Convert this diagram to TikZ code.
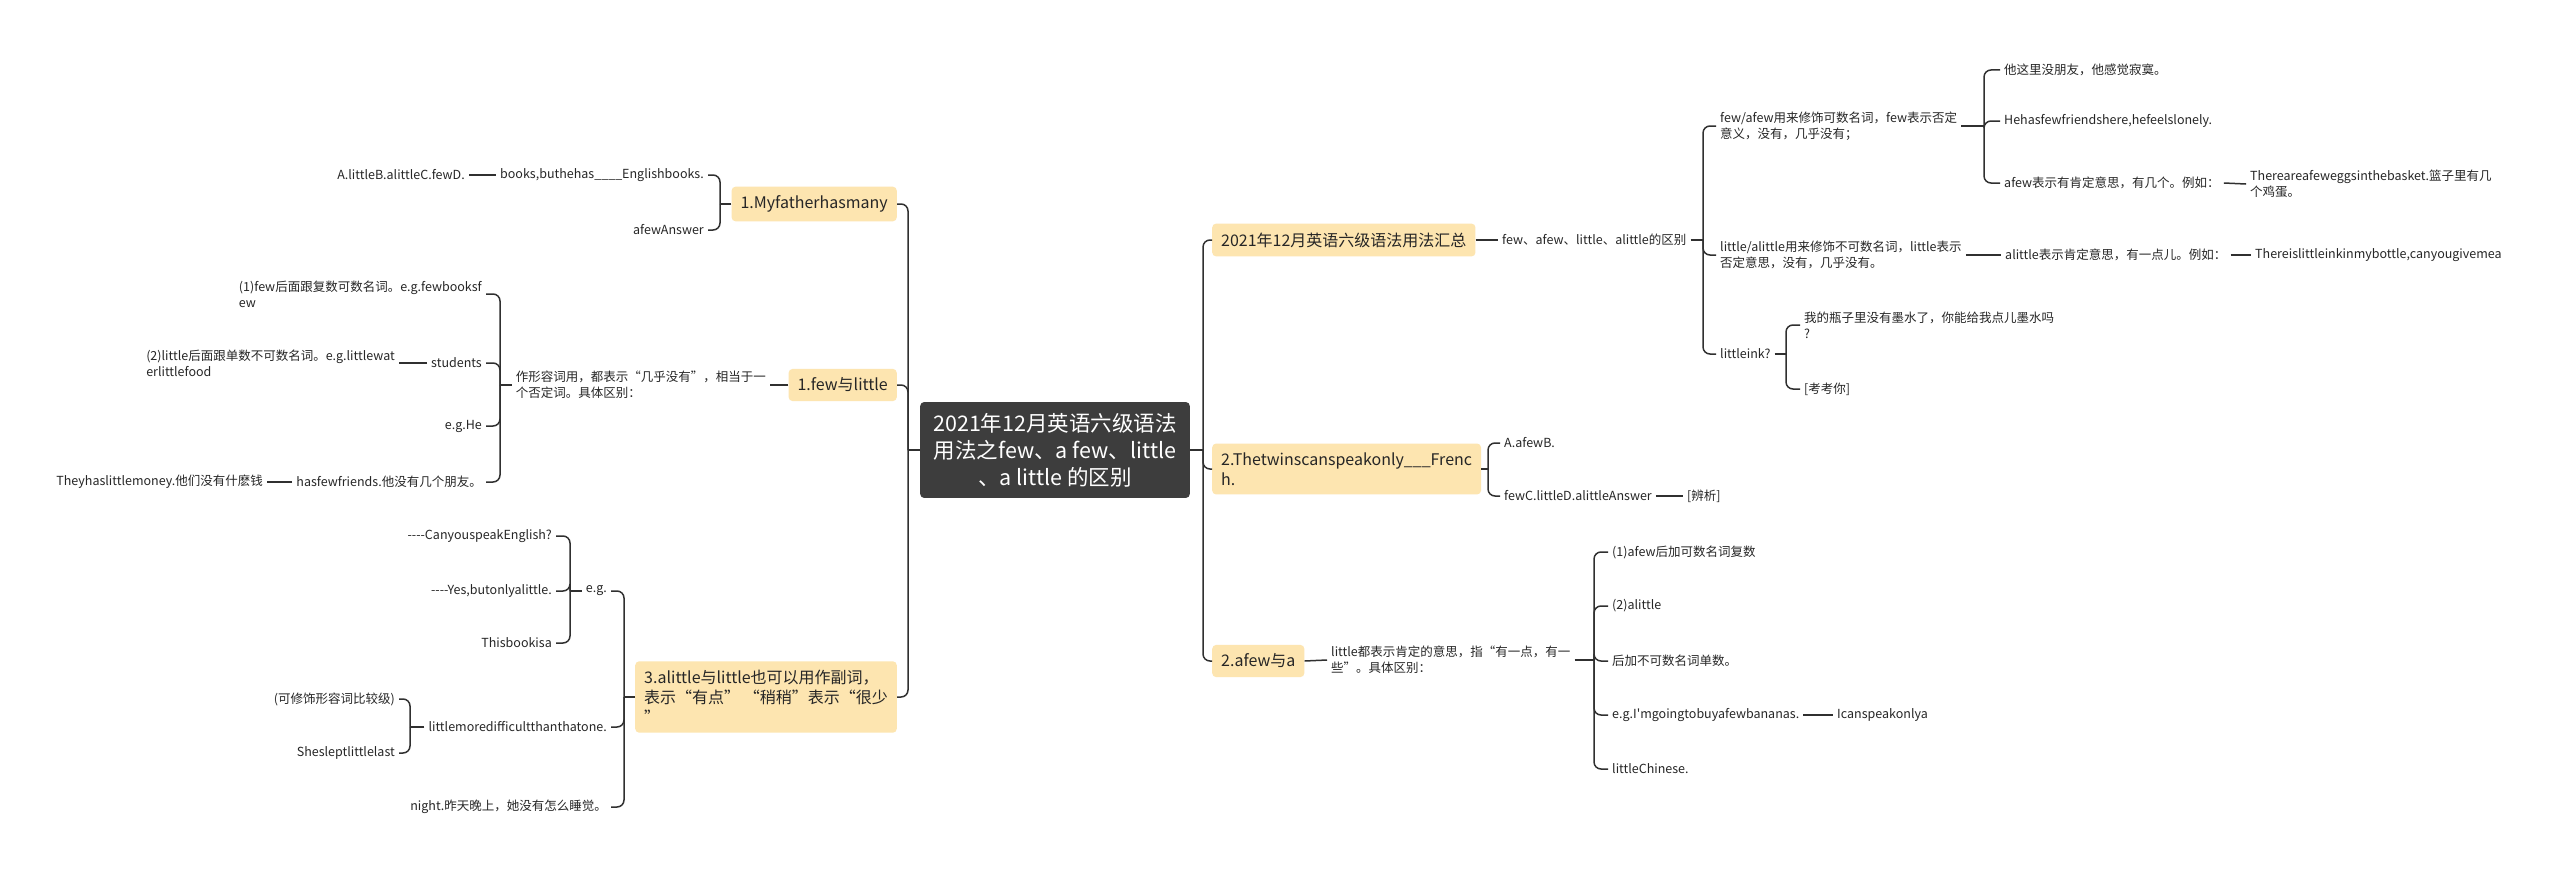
\documentclass[tikz,border=0pt]{standalone}
\usepackage{fontspec}
\setmainfont{Noto Sans CJK SC}[Ligatures=TeXOff]
\usepackage{xcolor}
\usepackage{tikz}
\usetikzlibrary{positioning}
\definecolor{topicgray}{HTML}{3D3D3D}
\definecolor{branchfill}{HTML}{FDE5B0}
\definecolor{linkgray}{HTML}{303030}
\newcommand{\dashrun}{-\kern0pt-\kern0pt-\kern0pt-}

\begin{document}
\begin{tikzpicture}[x=1pt,y=-1pt,
    root/.style={fill=topicgray,text=white,rounded corners=4pt,align=center,
      font=\fontsize{21.5}{27}\selectfont,inner xsep=13pt,inner ysep=11pt},
    branch/.style={fill=branchfill,text=black!85,rounded corners=4pt,align=left,
      font=\fontsize{16}{20}\selectfont,inner xsep=9pt,inner ysep=9pt},
    leaf/.style={align=left,text=black!85,font=\fontsize{12.5}{16}\selectfont,
      inner xsep=4pt,inner ysep=3pt},
    link/.style={draw=linkgray,line width=1.5pt,rounded corners=7pt}]
    \useasboundingbox[fill=white] (0,0) rectangle (2560,875);

    \node[root] (root) at (1055,450) {2021年12月英语六级语法\\用法之few、a few、little\\、a little 的区别};

    \node[branch,anchor=east] (b1) at (897,204) {1.Myfatherhasmany};
    \node[branch,anchor=east] (b2) at (897,385) {1.few与little};
    \node[branch,anchor=east] (b3) at (897,697) {3.alittle与little也可以用作副词，\\表示“有点” “稍稍”表示“很少\\”};
    \node[branch,anchor=west] (b4) at (1212,240) {2021年12月英语六级语法用法汇总};
    \node[branch,anchor=west] (b5) at (1212,469) {2.Thetwinscanspeakonly\_\_\_Frenc\\h.};
    \node[branch,anchor=west] (b6) at (1212,661) {2.afew与a};

    \node[leaf,anchor=east] (a1) at (708,175) {books,buthehas\_\_\_\_Englishbooks.};
    \node[leaf,anchor=east] (a1x) at (469,175) {A.littleB.alittleC.fewD.};
    \node[leaf,anchor=east] (a2) at (708,230) {afewAnswer};

    \node[leaf,anchor=east] (c0) at (770,385) {作形容词用，都表示“几乎没有”，相当于一\\个否定词。具体区别：};
    \node[leaf,anchor=east] (c1) at (486,294) {(1)few后面跟复数可数名词。e.g.fewbooksf\\ew};
    \node[leaf,anchor=east] (c2) at (486,363) {students};
    \node[leaf,anchor=east] (c2x) at (399,363) {(2)little后面跟单数不可数名词。e.g.littlewat\\erlittlefood};
    \node[leaf,anchor=east] (c3) at (486,426) {e.g.He};
    \node[leaf,anchor=east] (c4) at (486,482) {hasfewfriends.他没有几个朋友。};
    \node[leaf,anchor=east] (c4x) at (267,482) {Theyhaslittlemoney.他们没有什麽钱};

    \node[leaf,anchor=east] (d1) at (611,591) {e.g.};
    \node[leaf,anchor=east] (d1a) at (556,536) {\dashrun CanyouspeakEnglish?};
    \node[leaf,anchor=east] (d1b) at (556,591) {\dashrun Yes,butonlyalittle.};
    \node[leaf,anchor=east] (d1c) at (556,643) {Thisbookisa};
    \node[leaf,anchor=east] (d2) at (611,727) {littlemoredifficultthanthatone.};
    \node[leaf,anchor=east] (d2a) at (399,699) {(可修饰形容词比较级)};
    \node[leaf,anchor=east] (d2b) at (399,753) {Shesleptlittlelast};
    \node[leaf,anchor=east] (d3) at (611,807) {night.昨天晚上，她没有怎么睡觉。};

    \node[leaf,anchor=west] (e) at (1498,240) {few、afew、little、alittle的区别};
    \node[leaf,anchor=west] (f1) at (1716,126) {few/afew用来修饰可数名词，few表示否定\\意义，没有，几乎没有；};
    \node[leaf,anchor=west] (f1a) at (2000,70) {他这里没朋友，他感觉寂寞。};
    \node[leaf,anchor=west] (f1b) at (2000,121) {Hehasfewfriendshere,hefeelslonely.};
    \node[leaf,anchor=west] (f1c) at (2000,183) {afew表示有肯定意思，有几个。例如：};
    \node[leaf,anchor=west] (f1cx) at (2246,184) {Thereareafeweggsinthebasket.篮子里有几\\个鸡蛋。};
    \node[leaf,anchor=west] (f2) at (1716,255) {little/alittle用来修饰不可数名词，little表示\\否定意思，没有，几乎没有。};
    \node[leaf,anchor=west] (g) at (2001,255) {alittle表示肯定意思，有一点儿。例如：};
    \node[leaf,anchor=west] (gx) at (2251,255) {Thereislittleinkinmybottle,canyougivemea};
    \node[leaf,anchor=west] (f3) at (1716,354) {littleink?};
    \node[leaf,anchor=west] (f3a) at (1800,325) {我的瓶子里没有墨水了，你能给我点儿墨水吗\\?};
    \node[leaf,anchor=west] (f3b) at (1800,389) {[考考你]};

    \node[leaf,anchor=west] (k1) at (1500,443) {A.afewB.};
    \node[leaf,anchor=west] (k2) at (1500,496) {fewC.littleD.alittleAnswer};
    \node[leaf,anchor=west] (k2x) at (1683,496) {[辨析]};

    \node[leaf,anchor=west] (h) at (1327,660) {little都表示肯定的意思，指“有一点，有一\\些”。具体区别：};
    \node[leaf,anchor=west] (h1) at (1608,552) {(1)afew后加可数名词复数};
    \node[leaf,anchor=west] (h2) at (1608,606) {(2)alittle};
    \node[leaf,anchor=west] (h3) at (1608,661) {后加不可数名词单数。};
    \node[leaf,anchor=west] (h4) at (1608,715) {e.g.I'mgoingtobuyafewbananas.};
    \node[leaf,anchor=west] (h4x) at (1833,715) {Icanspeakonlya};
    \node[leaf,anchor=west] (h5) at (1608,769) {littleChinese.};

    \coordinate (tl) at (908,450);
    \coordinate (tr) at (1203,450);
    \coordinate (s1) at (720,204);
    \coordinate (s2) at (500,385);
    \coordinate (s3) at (624,697);
    \coordinate (s3a) at (570,591);
    \coordinate (s3b) at (410,727);
    \coordinate (s4) at (1703,240);
    \coordinate (s4a) at (1984,126);
    \coordinate (s4c) at (1786,354);
    \coordinate (s5) at (1488,469);
    \coordinate (s6) at (1594,660);

    \draw[link] (root.west) -- (tl);
    \foreach \b in {b1,b2,b3} \draw[link] (tl) |- (\b.east);
    \draw[link] (root.east) -- (tr);
    \foreach \b in {b4,b5,b6} \draw[link] (tr) |- (\b.west);

    \draw[link] (b1.west) -- (s1);
    \foreach \c in {a1,a2} \draw[link] (s1) |- (\c.east);
    \draw[link] (a1.west) -- (a1x.east);

    \draw[link] (b2.west) -- (c0.east);
    \draw[link] (c0.west) -- (s2);
    \foreach \c in {c1,c2,c3,c4} \draw[link] (s2) |- (\c.east);
    \draw[link] (c2.west) -- (c2x.east);
    \draw[link] (c4.west) -- (c4x.east);

    \draw[link] (b3.west) -- (s3);
    \foreach \c in {d1,d2,d3} \draw[link] (s3) |- (\c.east);
    \draw[link] (d1.west) -- (s3a);
    \foreach \c in {d1a,d1b,d1c} \draw[link] (s3a) |- (\c.east);
    \draw[link] (d2.west) -- (s3b);
    \foreach \c in {d2a,d2b} \draw[link] (s3b) |- (\c.east);

    \draw[link] (b4.east) -- (e.west);
    \draw[link] (e.east) -- (s4);
    \foreach \c in {f1,f2,f3} \draw[link] (s4) |- (\c.west);
    \draw[link] (f1.east) -- (s4a);
    \foreach \c in {f1a,f1b,f1c} \draw[link] (s4a) |- (\c.west);
    \draw[link] (f1c.east) -- (f1cx.west);
    \draw[link] (f2.east) -- (g.west);
    \draw[link] (g.east) -- (gx.west);
    \draw[link] (f3.east) -- (s4c);
    \foreach \c in {f3a,f3b} \draw[link] (s4c) |- (\c.west);

    \draw[link] (b5.east) -- (s5);
    \foreach \c in {k1,k2} \draw[link] (s5) |- (\c.west);
    \draw[link] (k2.east) -- (k2x.west);

    \draw[link] (b6.east) -- (h.west);
    \draw[link] (h.east) -- (s6);
    \foreach \c in {h1,h2,h3,h4,h5} \draw[link] (s6) |- (\c.west);
    \draw[link] (h4.east) -- (h4x.west);
  \end{tikzpicture}
\end{document}
